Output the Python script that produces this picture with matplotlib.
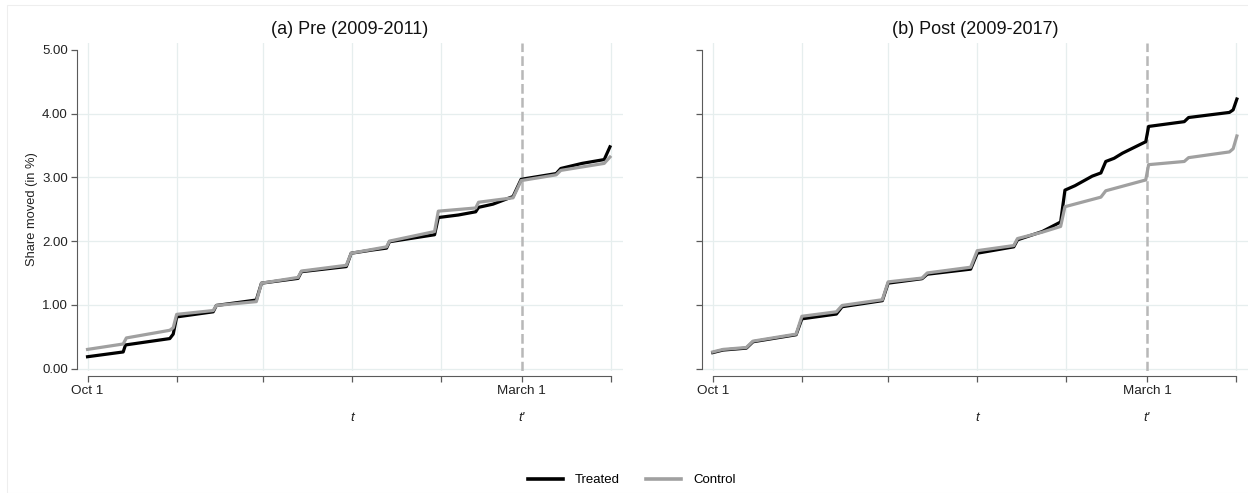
import matplotlib
matplotlib.use("Agg")
import matplotlib.pyplot as plt
from matplotlib.lines import Line2D
from matplotlib.patches import Rectangle

plt.rcParams['font.family'] = ['Liberation Sans', 'DejaVu Sans']
plt.rcParams['lines.scale_dashes'] = False

# ---------------- data (day since Oct 1, share moved in %) ----------------
pre_treated_days = [0, 12.4, 13.2, 28.6, 29.8, 31, 43.7, 44.8, 58.7, 60.5, 73.2, 74.4, 90, 91.7,
                    99, 104, 105, 120.7, 122, 129, 135, 136, 141, 148, 150.8, 163, 164.6, 172,
                    179.7, 181.7]
pre_treated = [0.185, 0.26, 0.37, 0.47, 0.54, 0.81, 0.89, 0.99, 1.075, 1.34, 1.415, 1.52, 1.60, 1.81,
               1.86, 1.89, 1.99, 2.10, 2.37, 2.41, 2.46, 2.53, 2.58, 2.70, 2.97, 3.06, 3.14, 3.22,
               3.28, 3.48]

pre_control_days = [0, 12.4, 13.5, 28.6, 29.8, 31, 43.7, 44.8, 58.7, 60.5, 73.2, 74.4, 90, 91.7,
                    104, 105, 120.7, 122, 135, 136, 148, 150.8, 163, 164.6, 179.7, 181.7]
pre_control = [0.30, 0.385, 0.48, 0.60, 0.64, 0.85, 0.91, 0.99, 1.05, 1.34, 1.43, 1.53, 1.62, 1.81,
               1.91, 2.00, 2.15, 2.47, 2.52, 2.61, 2.68, 2.95, 3.04, 3.11, 3.22, 3.32]

post_treated_days = [0, 3.6, 11.7, 14, 29, 31, 43, 45, 59, 61, 72.8, 74.6, 89.7, 92, 104.7, 106,
                     114.6, 121, 122.5, 126, 132, 135, 136.7, 139.6, 142.5, 150.6, 151.6, 164,
                     165.5, 179.7, 181, 182.3]
post_treated = [0.25, 0.29, 0.32, 0.42, 0.53, 0.78, 0.855, 0.97, 1.065, 1.34, 1.41, 1.48, 1.56, 1.81,
                1.91, 2.02, 2.15, 2.30, 2.80, 2.87, 3.02, 3.07, 3.25, 3.30, 3.38, 3.56, 3.80, 3.875,
                3.94, 4.02, 4.06, 4.23]

post_control_days = [0, 3.6, 11.7, 14, 29, 31, 43, 45, 59, 61, 72.8, 74.6, 89.7, 92, 104.7, 106,
                     114.6, 121, 122.5, 135, 136.7, 150.6, 151.6, 164, 165.5, 179.7, 181, 182.3]
post_control = [0.26, 0.30, 0.33, 0.43, 0.54, 0.82, 0.89, 0.99, 1.08, 1.36, 1.42, 1.50, 1.59, 1.85,
                1.93, 2.04, 2.14, 2.23, 2.54, 2.69, 2.79, 2.96, 3.20, 3.25, 3.31, 3.40, 3.45, 3.65]

month_ticks = [0, 31, 61, 92, 123, 151, 182]
month_labels = ['Oct 1', '', '', '', '', 'March 1', '']
y_ticks = [0, 1, 2, 3, 4, 5]
y_labels = ['0.00', '1.00', '2.00', '3.00', '4.00', '5.00']
event_day = 151
t_day = 92
titles = ['(a) Pre (2009-2011)', '(b) Post (2009-2017)']
series_names = ['Treated', 'Control']

# ---------------- figure ----------------
W, H = 1248, 493
fig = plt.figure(figsize=(W / 100, H / 100), dpi=100)
fig.patch.set_facecolor('white')

fig.patches.append(Rectangle((7 / W, 0), 1.2, 1 - 5 / H, transform=fig.transFigure,
                             fill=False, edgecolor='#eeeeee', lw=0.8))

ax_w = 546 / W
ax_b = (H - 371) / H
ax_h = (371 - 43.3) / H
axes = [fig.add_axes([76.9 / W, ax_b, ax_w, ax_h]),
        fig.add_axes([702.1 / W, ax_b, ax_w, ax_h])]

treat_col = 'black'
ctrl_col = '#a0a0a0'
grid_col = '#e6eeee'
axis_col = '#5a5a5a'

panels = [(pre_treated_days, pre_treated, pre_control_days, pre_control),
          (post_treated_days, post_treated, post_control_days, post_control)]

for i, ax in enumerate(axes):
    td, tv, cd, cv = panels[i]
    ax.set_xlim(-3.7, 186.2)
    ax.set_ylim(-0.039, 5.105)
    for yv in y_ticks[:-1]:
        ax.axhline(yv, color=grid_col, lw=0.9, zorder=0)
    for xv in month_ticks:
        if xv != event_day:
            ax.axvline(xv, color=grid_col, lw=0.9, zorder=0)
    ax.axvline(event_day, color='#b8b8b8', lw=1.8, dashes=(7, 3), zorder=1)
    ax.plot(td, tv, color=treat_col, lw=2.3, solid_joinstyle='round', zorder=3)
    ax.plot(cd, cv, color=ctrl_col, lw=2.3, solid_joinstyle='round', zorder=4)

    for s in ['top', 'right']:
        ax.spines[s].set_visible(False)
    ax.spines['left'].set_bounds(0, 5)
    ax.spines['left'].set_color(axis_col)
    ax.spines['bottom'].set_position(('outward', 3.6))
    ax.spines['bottom'].set_bounds(0, 182)
    ax.spines['bottom'].set_color(axis_col)

    ax.set_xticks(month_ticks)
    ax.set_xticklabels(month_labels, fontsize=9.7, color='#222222')
    ax.set_yticks(y_ticks)
    if i == 0:
        ax.set_yticklabels(y_labels, fontsize=9.5, color='#222222')
    else:
        ax.set_yticklabels([])
    ax.tick_params(axis='both', direction='out', length=4, width=0.9, color=axis_col, pad=2.5)

    for xd, lab in [(t_day, 't'), (event_day, "t'")]:
        ax.annotate(lab, xy=(xd, 0), xycoords=('data', 'axes fraction'),
                    xytext=(0, -47), textcoords='offset pixels',
                    ha='center', va='center', fontsize=9.7, style='italic', color='#222222')

fig.text(350 / W, 1 - 30 / H, titles[0], ha='center', va='center', fontsize=13, color='#111111')
fig.text(975 / W, 1 - 30 / H, titles[1], ha='center', va='center', fontsize=13, color='#111111')
fig.text(31.7 / W, 1 - 209 / H, 'Share moved (in %)', rotation=90, ha='center', va='center',
         fontsize=9.3, color='#222222')

handles = [Line2D([], [], color=treat_col, lw=2.6), Line2D([], [], color=ctrl_col, lw=2.6)]
fig.legend(handles, series_names, loc='center', bbox_to_anchor=(632 / W, 1 - 480 / H), ncol=2,
           frameon=False, fontsize=9.5, handlelength=2.65, handletextpad=0.9, columnspacing=2.0)

fig.savefig('out.png', dpi=100, facecolor='white')
